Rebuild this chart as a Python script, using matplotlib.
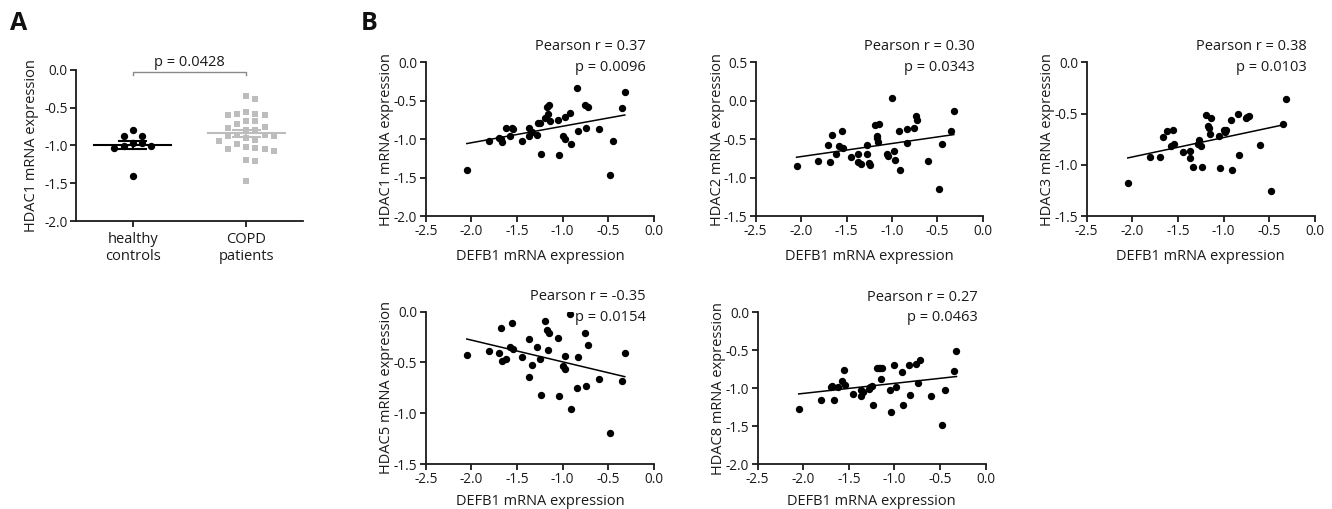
import numpy as np
import matplotlib.pyplot as plt

plt.rcParams['font.family'] = ['Open Sans', 'DejaVu Sans']
plt.rcParams['axes.unicode_minus'] = False

# panel A: HDAC1 per group
healthy = [-0.80, -0.88, -0.87, -0.97, -1.01, -1.03, -1.01, -0.97, -1.41]
copd = [-0.39, -0.34, -0.58, -0.59, -0.60, -0.58, -0.56, -0.72, -0.68, -0.68,
        -0.75, -0.77, -0.79, -0.79, -0.86, -0.87, -0.93, -0.94, -0.90, -0.87,
        -0.86, -1.02, -1.04, -1.07, -1.05, -1.03, -0.98, -1.19, -1.21, -1.47]
groups = ['healthy\ncontrols', 'COPD\npatients']

# panel B: DEFB1 vs HDACs (nan = not measured)
nan = np.nan
defb1 = [-2.05, -1.81, -1.70, -1.68, -1.66, -1.62, -1.58, -1.55, -1.54, -1.45,
         -1.37, -1.37, -1.34, -1.28, -1.27, -1.25, -1.24, -1.19, -1.17, -1.16,
         -1.15, -1.14, -1.05, -1.04, -1.00, -0.98, -0.97, -0.92, -0.91, -0.84,
         -0.83, -0.76, -0.74, -0.72, -0.60, -0.48, -0.45, -0.35, -0.32]
hdac1 = [-1.40, -1.02, -0.99, -1.00, -1.04, -0.86, -0.96, -0.86, -0.87, -1.02,
         -0.85, -0.96, -0.91, -0.94, -0.79, -0.79, -1.19, -0.73, -0.58, -0.67,
         -0.55, -0.77, -0.75, -1.20, -0.96, -1.00, -0.71, -0.66, -1.06, -0.33,
         -0.89, -0.56, -0.85, -0.58, -0.87, -1.46, -1.03, -0.59, -0.38]
hdac2 = [-0.85, -0.79, -0.58, -0.80, -0.44, -0.69, -0.59, -0.40, -0.61, -0.73,
         -0.69, -0.80, -0.82, -0.58, -0.69, -0.81, -0.83, -0.31, -0.49, -0.46,
         -0.54, -0.30, -0.69, -0.72, 0.03, -0.65, -0.77, -0.39, -0.90, -0.37,
         -0.55, -0.36, -0.20, -0.25, -0.79, -1.15, -0.56, -0.39, -0.13]
hdac3 = [-1.18, -0.92, -0.92, nan, -0.73, -0.67, -0.82, -0.66, -0.80, -0.88,
         -0.87, -0.93, -1.02, -0.80, -0.76, -0.82, -1.02, -0.51, -0.62, -0.64,
         -0.70, -0.54, -0.72, -1.03, -0.66, -0.68, -0.66, -0.56, -1.05, -0.50,
         -0.90, -0.54, -0.53, -0.52, -0.81, -1.26, nan, -0.60, -0.36]
hdac5 = [-0.43, -0.39, -0.41, -0.16, -0.49, -0.47, -0.35, -0.11, -0.37, -0.45,
         -0.27, -0.64, -0.52, -0.35, nan, -0.47, -0.82, -0.09, -0.18, -0.38,
         -0.21, nan, -0.26, -0.83, -0.53, -0.44, -0.56, -0.02, -0.96, -0.75,
         -0.45, -0.21, -0.73, -0.33, -0.66, -1.19, nan, -0.68, -0.41]
hdac8 = [-1.27, -1.15, -0.99, -0.97, -1.16, -0.98, -0.90, -0.76, -0.96, -1.08,
         -1.10, -1.03, -1.05, -1.01, -0.99, -0.97, -1.22, -0.73, -0.73, -0.73,
         -0.88, -0.73, -1.02, -1.31, -0.70, -0.98, nan, -0.79, -1.22, -0.69,
         -1.09, -0.68, -0.93, -0.63, -1.10, -1.49, -1.02, -0.78, -0.51]

stats = {'HDAC1': ('0.37', '0.0096'), 'HDAC2': ('0.30', '0.0343'),
         'HDAC3': ('0.38', '0.0103'), 'HDAC5': ('-0.35', '0.0154'),
         'HDAC8': ('0.27', '0.0463')}

TXT = '#1a1a1a'
fig = plt.figure(figsize=(13.32, 5.09), dpi=100)


def style(ax):
    ax.spines['top'].set_visible(False)
    ax.spines['right'].set_visible(False)
    for s in ['left', 'bottom']:
        ax.spines[s].set_linewidth(1.3)
        ax.spines[s].set_color('#1a1a1a')
    ax.tick_params(direction='out', length=4, width=1.3, labelsize=9.8,
                   colors='#1a1a1a', pad=2)


def swarm(vals, w=9.2, h=7.0, ypx=75.5):
    # greedy beeswarm offsets in pixel units
    order = np.argsort(vals)[::-1]
    placed = []
    offs = np.zeros(len(vals))
    for i in order:
        y = vals[i] * ypx
        k = 0
        while True:
            slot = (k + 1) // 2 * (1 if k % 2 else -1) if k else 0
            if all(not (sl == slot and abs(y - yy) < h) for sl, yy in placed):
                break
            k += 1
        placed.append((slot, y))
        offs[i] = slot * w
    return offs


# ---- panel A
axA = fig.add_axes([0.0571, 0.5658, 0.1704, 0.2967])
style(axA)
xpx = 114.0
for gi, (vals, col, mk, sz) in enumerate([(healthy, 'k', 'o', 28),
                                          (copd, '#bdbdbd', 's', 24)]):
    v = np.array(vals)
    off = swarm(v) / xpx
    axA.scatter(gi + off, v, s=sz, marker=mk, color=col, linewidths=0, zorder=3)
    m = v.mean()
    sem = v.std(ddof=1) / np.sqrt(len(v))
    axA.plot([gi - 0.34, gi + 0.34], [m, m], color=col, lw=1.5, zorder=4)
    axA.plot([gi, gi], [m - sem, m + sem], color=col, lw=1.5, zorder=4)
    for yy in (m - sem, m + sem):
        axA.plot([gi - 0.12, gi + 0.12], [yy, yy], color=col, lw=1.5, zorder=4)
axA.set_xlim(-0.5, 1.5)
axA.set_ylim(-2.0, 0.0)
axA.set_yticks(np.arange(-2.0, 0.01, 0.5))
axA.set_yticklabels(['%.1f' % t for t in np.arange(-2.0, 0.01, 0.5)])
axA.set_xticks([0, 1])
axA.set_xticklabels(groups, fontsize=10.5, linespacing=1.15)
axA.tick_params(axis='x', pad=4)
axA.text(-0.195, 0.5, 'HDAC1 mRNA expression', rotation=90, ha='center',
         va='center', fontsize=10.5, color=TXT, transform=axA.transAxes)
axA.plot([0, 0, 1, 1], [-0.066, -0.03, -0.03, -0.066], color='#8a8a8a',
         lw=1, clip_on=False)
axA.text(0.5, 0.10, 'p = 0.0428', ha='center', va='center', fontsize=10.5,
         color=TXT, clip_on=False)

# ---- panel B
rects = {'HDAC1': [0.3196, 0.5756, 0.1714, 0.3020],
         'HDAC2': [0.5673, 0.5756, 0.1706, 0.3020],
         'HDAC3': [0.8158, 0.5756, 0.1714, 0.3020],
         'HDAC5': [0.3196, 0.0884, 0.1714, 0.2992],
         'HDAC8': [0.5688, 0.0884, 0.1712, 0.2980]}
ylims = {'HDAC1': (-2.0, 0.0), 'HDAC2': (-1.5, 0.5), 'HDAC3': (-1.5, 0.0),
         'HDAC5': (-1.5, 0.0), 'HDAC8': (-2.0, 0.0)}
series = {'HDAC1': hdac1, 'HDAC2': hdac2, 'HDAC3': hdac3,
          'HDAC5': hdac5, 'HDAC8': hdac8}

x = np.array(defb1)
for name, yv in series.items():
    ax = fig.add_axes(rects[name])
    style(ax)
    y = np.array(yv)
    ok = ~np.isnan(y)
    ax.scatter(x[ok], y[ok], s=28, color='k', linewidths=0, zorder=3)
    slope, icpt = np.polyfit(x[ok], y[ok], 1)
    xs = np.array([x[ok].min(), x[ok].max()])
    ax.plot(xs, slope * xs + icpt, color='k', lw=1.1)
    lo, hi = ylims[name]
    ax.set_xlim(-2.5, 0.0)
    ax.set_ylim(lo, hi)
    xt = np.arange(-2.5, 0.01, 0.5)
    ax.set_xticks(xt)
    ax.set_xticklabels(['%.1f' % t for t in xt])
    yt = np.arange(lo, hi + 0.01, 0.5)
    ax.set_yticks(yt)
    ax.set_yticklabels(['%.1f' % (t + 0.0) for t in yt])
    ypos = -0.265 if rects[name][1] > 0.5 else -0.245
    ax.text(0.5, ypos, 'DEFB1 mRNA expression', ha='center', va='center',
            fontsize=10.5, color=TXT, transform=ax.transAxes)
    ax.text(-0.17, 0.5, name + ' mRNA expression', rotation=90, ha='center',
            va='center', fontsize=10.5, color=TXT, transform=ax.transAxes)
    r, p = stats[name]
    ax.text(0.965, 1.10, 'Pearson r = ' + r, ha='right', va='center',
            fontsize=10.5, color=TXT, transform=ax.transAxes)
    ax.text(0.965, 0.965, 'p = ' + p, ha='right', va='center',
            fontsize=10.5, color=TXT, transform=ax.transAxes)

fig.text(0.0075, 1 - 23 / 509, 'A', fontsize=18, fontweight='bold',
         ha='left', va='center', color='#111111')
fig.text(0.2705, 1 - 23 / 509, 'B', fontsize=18, fontweight='bold',
         ha='left', va='center', color='#111111')

fig.savefig('out.png', dpi=100)
